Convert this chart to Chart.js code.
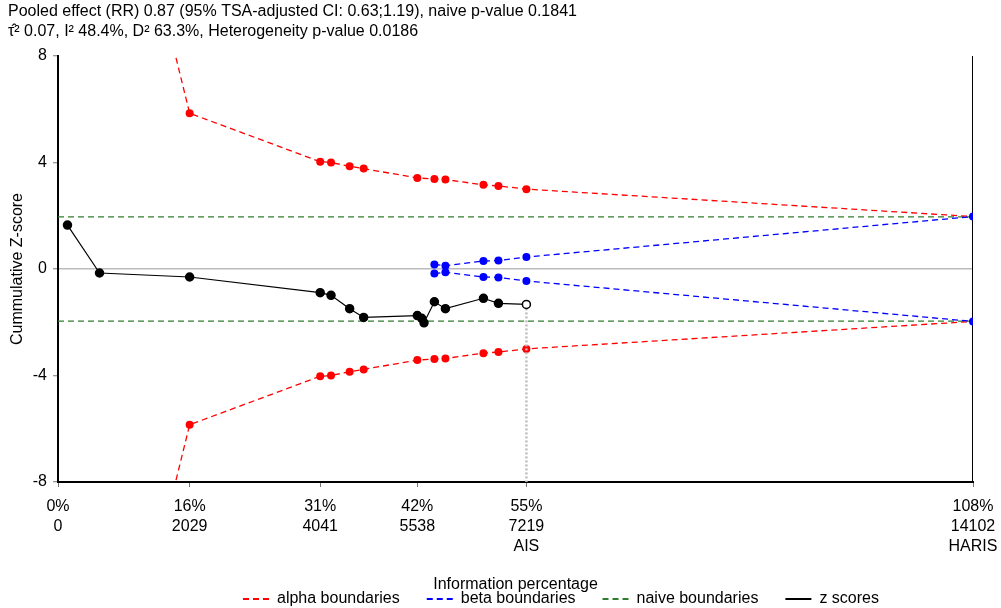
<!DOCTYPE html>
<html>
<head>
<meta charset="utf-8">
<script src="https://cdn.jsdelivr.net/npm/chart.js@4/dist/chart.umd.min.js"></script>
<style>
  html, body { margin: 0; padding: 0; background: #fff; }
  #wrap { width: 1001px; height: 608px; }
</style>
</head>
<body>
<div id="wrap"><canvas id="tsaChart" width="1001" height="608"></canvas></div>
<script>
// cumulative information (patients) for each trial and its z-score
const zInfo = [146, 640, 2029, 4041, 4208, 4495, 4711, 5538, 5605, 5641, 5801, 5971, 6557, 6788, 7219];
const zScores = [1.65, -0.15, -0.30, -0.89, -0.99, -1.49, -1.82, -1.75, -1.85, -2.02, -1.23, -1.49, -1.10, -1.29, -1.33];

// monitoring boundaries (upper half, lower half is the mirror)
const alphaInfo = [640, 2029, 4041, 4208, 4495, 4711, 5538, 5801, 5971, 6557, 6788, 7219, 14102];
const alphaUpper = [19.6, 5.85, 4.03, 4.00, 3.86, 3.77, 3.42, 3.38, 3.36, 3.16, 3.12, 3.00, 1.97];
const betaInfo = [5801, 5971, 6557, 6788, 7219, 14102];
const betaUpper = [0.17, 0.12, 0.30, 0.32, 0.45, 1.97];
const naiveZ = 1.96;

// x axis ticks
const infoTicks = [0, 2029, 4041, 5538, 7219, 14102];
const infoPct = ["0%", "16%", "31%", "42%", "55%", "108%"];
const infoTag = ["", "", "", "", "AIS", "HARIS"];
const ais = 7219;
const haris = 14102;

const zTicks = [-8, -4, 0, 4, 8];

const titleLines = [
    "Pooled effect (RR) 0.87 (95% TSA-adjusted CI: 0.63;1.19), naive p-value 0.1841",
    "\u03C4\u0302\u00B2 0.07, I\u00B2 48.4%, D\u00B2 63.3%, Heterogeneity p-value 0.0186"
];

// upper + gap + lower, so each boundary pair is one dataset
function mirrored(xs, ys) {
    const up = xs.map((x, i) => ({ x: x, y: ys[i] }));
    const low = xs.map((x, i) => ({ x: x, y: -ys[i] }));
    return up.concat([{ x: xs[xs.length - 1], y: null }], low);
}

Chart.defaults.font.family = "'Liberation Sans', Arial, Helvetica, sans-serif";
Chart.defaults.font.size = 16;
Chart.defaults.color = "#000";

const dash = [6, 4];

// put the legend row where it belongs
const legendPlacer = {
    id: "legendPlacer",
    afterLayout(chart) {
        const lg = chart.legend;
        const pad = lg.options.labels.padding;
        lg.left = 243 - pad;
        lg.right = 1001;
        lg.top = 599 - 8 - pad;
        lg.bottom = 608;
    }
};

const zPointFill = zScores.map((v, i) => i === zScores.length - 1 ? "#fff" : "#000");

new Chart(document.getElementById("tsaChart"), {
    type: "line",
    data: {
        datasets: [
            {
                label: "alpha boundaries",
                data: mirrored(alphaInfo, alphaUpper),
                borderColor: "#ff0000",
                backgroundColor: "#ff0000",
                borderWidth: 1.3,
                borderDash: dash,
                pointRadius: ctx => ctx.raw && ctx.raw.x === haris ? 0 : 4,
                pointBorderWidth: 0,
                clip: { left: 6, right: 6, top: 0, bottom: 0 },
                order: 3
            },
            {
                label: "beta boundaries",
                data: mirrored(betaInfo, betaUpper),
                borderColor: "#0000ff",
                backgroundColor: "#0000ff",
                borderWidth: 1.3,
                borderDash: dash,
                pointRadius: 4,
                pointBorderWidth: 0,
                order: 2
            },
            {
                label: "naive boundaries",
                data: mirrored([0, haris], [naiveZ, naiveZ]),
                borderColor: "#2f7d2f",
                backgroundColor: "#2f7d2f",
                borderWidth: 1.3,
                borderDash: dash,
                pointRadius: 0,
                order: 4
            },
            {
                label: "z scores",
                data: zInfo.map((x, i) => ({ x: x, y: zScores[i] })),
                borderColor: "#000",
                backgroundColor: "#000",
                borderWidth: 1.2,
                pointRadius: 4,
                pointBackgroundColor: zPointFill,
                pointBorderColor: "#000",
                pointBorderWidth: 1.5,
                order: 0
            },
            {
                // dotted drop line at the accrued information size
                label: "",
                data: [{ x: ais, y: zScores[zScores.length - 1] }, { x: ais, y: -8 }],
                borderColor: "#bdbdbd",
                borderWidth: 2.5,
                borderDash: [2, 2],
                pointRadius: 0,
                order: 1
            },
            {
                // required information size
                label: "",
                data: [{ x: haris, y: -8 }, { x: haris, y: 8 }],
                borderColor: "#000",
                borderWidth: 2,
                pointRadius: 0,
                order: 5
            }
        ]
    },
    options: {
        responsive: false,
        animation: false,
        layout: { padding: { left: 8, right: 28, top: 0, bottom: 0 } },
        scales: {
            x: {
                type: "linear",
                min: 0,
                max: haris,
                afterBuildTicks: scale => { scale.ticks = infoTicks.map(v => ({ value: v })); },
                afterFit: scale => {
                    scale.height = 111;
                    scale.paddingLeft = 0;
                    scale.paddingRight = 0;
                },
                ticks: {
                    autoSkip: false,
                    maxRotation: 0,
                    padding: 10,
                    font: { size: 16, lineHeight: 1.25 },
                    callback: value => {
                        const i = infoTicks.indexOf(value);
                        const lines = [infoPct[i], String(value)];
                        if (infoTag[i]) lines.push(infoTag[i]);
                        return lines;
                    }
                },
                grid: { drawOnChartArea: false, drawTicks: true, tickLength: 5, tickColor: "#777", tickWidth: 1 },
                border: { display: true, color: "#000", width: 2 },
                title: { display: true, text: "Information percentage", font: { size: 16, lineHeight: 1.25 }, padding: { top: 0, bottom: -2 } }
            },
            y: {
                type: "linear",
                min: -8,
                max: 8,
                afterBuildTicks: scale => { scale.ticks = zTicks.map(v => ({ value: v })); },
                afterFit: scale => { scale.width = 50; },
                ticks: { padding: 6, font: { size: 16 } },
                grid: {
                    drawOnChartArea: true,
                    color: ctx => ctx.tick && ctx.tick.value === 0 ? "#bbb" : "rgba(0,0,0,0)",
                    lineWidth: 1.5,
                    drawTicks: true,
                    tickLength: 5,
                    tickColor: "#777",
                    tickWidth: 1
                },
                border: { display: true, color: "#000", width: 2 },
                title: { display: true, text: "Cummulative Z-score", font: { size: 16, lineHeight: 1.25 }, padding: { top: 0, bottom: 0 } }
            }
        },
        plugins: {
            title: {
                display: true,
                text: titleLines,
                align: "start",
                color: "#000",
                font: { size: 16, weight: "normal", lineHeight: 1.25 },
                padding: { top: 2, bottom: 14 }
            },
            legend: {
                position: "bottom",
                align: "start",
                maxHeight: 15,
                labels: {
                    usePointStyle: true,
                    pointStyle: "line",
                    pointStyleWidth: 26,
                    padding: 27,
                    color: "#000",
                    font: { size: 16 },
                    // line samples taken from the datasets' own stroke settings
                    generateLabels: chart => chart.data.datasets.map((ds, i) => ({
                        text: ds.label,
                        datasetIndex: i,
                        fillStyle: ds.borderColor,
                        strokeStyle: ds.borderColor,
                        lineWidth: 2,
                        lineDash: ds.borderDash || [],
                        pointStyle: "line",
                        hidden: false
                    })),
                    filter: item => item.text !== ""
                }
            },
            tooltip: { enabled: false }
        }
    },
    plugins: [legendPlacer]
});
</script>
</body>
</html>
